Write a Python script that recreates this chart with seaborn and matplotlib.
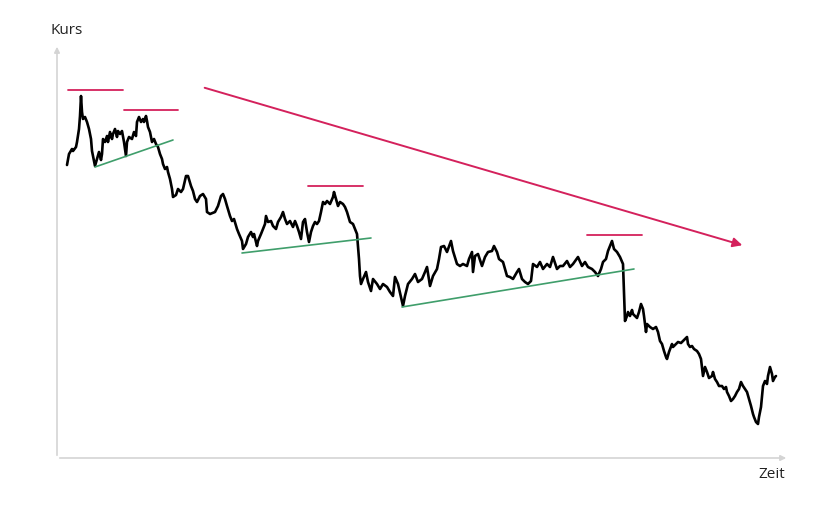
import numpy as np
import pandas as pd
import seaborn as sns
import matplotlib.pyplot as plt

# price path (time, price in chart units)
zeit = [10, 12, 15, 16, 19, 20, 22, 23, 24, 25, 26, 28, 30, 32, 34, 35, 37, 38, 40, 42,
        44, 45, 46, 48, 50, 51, 53, 55, 56, 58, 60, 61, 63, 65, 67, 69, 70, 72, 75, 77,
        79, 80, 82, 84, 86, 87, 89, 90, 91, 93, 95, 97, 99, 101, 103, 105, 106, 108, 110, 111,
        113, 115, 116, 119, 121, 124, 126, 129, 131, 134, 136, 138, 140,
        143, 146, 149, 150, 153, 158, 161, 164, 166, 168, 170, 173, 175, 177, 180, 182, 185, 186, 189, 191,
        194, 196, 197, 200, 201, 204, 206, 208, 209, 211, 214, 216, 219, 221, 224, 226, 228, 230, 233, 236,
        238, 240, 242, 244, 246, 248, 250, 252, 254, 256, 258, 260, 262, 264, 266, 268, 270, 273, 276, 277,
        279, 281, 283, 286, 288, 290, 293, 296, 298, 300, 301, 302,
        303, 304, 306, 309, 311, 314, 316, 320, 323, 326, 330, 333, 336, 338, 341, 344, 346, 348, 351, 355,
        358, 361, 365, 368, 370, 373, 376, 380, 382, 384, 387, 390, 394, 396, 400, 403, 406, 410, 412, 415,
        416, 418, 421, 425, 428, 431, 435, 437, 440, 442, 446, 448, 450, 453, 456, 460, 462, 465, 468, 471,
        474, 476, 480, 483, 486, 490, 493, 496, 500, 503, 506, 510, 513, 516, 521, 525, 528, 531, 535, 538,
        541, 544, 546, 549, 551, 555, 557, 560, 563, 566, 567,
        568, 570, 571, 573, 575, 576, 578, 580, 582, 584, 586, 587, 589, 590, 593, 596, 599, 601, 603, 605,
        607, 609, 610, 612, 615, 616, 619, 621, 624, 626, 628, 630, 631, 633, 635, 637, 640, 642, 644, 646,
        648, 650, 652, 655, 656, 658, 660, 662, 665, 667, 669, 670, 672, 674, 676, 678, 680, 682, 684, 686,
        688, 690, 692, 694, 696, 697, 699, 701, 702, 704, 705, 706, 708, 710, 711, 713, 715, 716, 718, 719]
kurs = [293, 304, 309, 307, 311, 316, 329, 342, 362, 346, 339, 341, 336, 329, 319, 307, 297, 292, 299, 306,
        298, 304, 319, 316, 322, 316, 326, 319, 324, 329, 321, 327, 324, 327, 316, 302, 316, 321, 319, 326,
        322, 336, 341, 336, 339, 336, 342, 337, 331, 326, 316, 319, 314, 311, 304, 299, 294, 289, 291, 286,
        279, 269, 261, 263, 269, 266, 269, 282, 282, 272, 267, 259, 256,
        262, 264, 259, 246, 244, 246, 252, 262, 264, 259, 252, 242, 237, 239, 229, 224, 217, 209, 214, 221,
        226, 221, 224, 212, 217, 224, 229, 234, 242, 236, 237, 232, 229, 236, 241, 246, 239, 234, 237, 231,
        237, 232, 226, 219, 236, 239, 226, 216, 226, 232, 236, 234, 237, 246, 256, 254, 257, 254, 261, 266,
        259, 252, 256, 254, 251, 246, 236, 234, 229, 224, 212, 199,
        182, 174, 179, 186, 176, 167, 179, 174, 169, 174, 171, 166, 162, 181, 174, 161, 152, 162, 174, 179,
        184, 176, 179, 186, 191, 172, 182, 189, 199, 211, 212, 206, 217, 207, 194, 192, 194, 192, 199, 206,
        186, 202, 204, 192, 201, 206, 207, 212, 206, 199, 196, 189, 182, 181, 179, 186, 189, 179, 176, 174,
        177, 194, 191, 196, 189, 194, 191, 201, 189, 192, 192, 197, 191, 194, 201, 192, 196, 191, 189, 186,
        182, 189, 196, 199, 207, 217, 209, 206, 201, 194, 165,
        137, 142, 146, 142, 148, 144, 142, 140, 146, 154, 149, 142, 126, 134, 131, 129, 131, 126, 117, 114,
        107, 101, 99, 106, 114, 111, 114, 116, 115, 117, 119, 121, 114, 111, 112, 109, 107, 104, 99, 82,
        91, 86, 80, 82, 86, 79, 76, 72, 72, 69, 71, 66, 62, 57, 59, 62, 66, 69, 76, 72,
        69, 66, 59, 52, 44, 41, 36, 34, 41, 51, 61, 72, 77, 74, 82, 91, 84, 77, 81, 82]

# resistance levels (red) and rising support lines (green)
res_x0 = [11, 67, 251, 530]
res_x1 = [66, 121, 306, 585]
res_y = [368, 348, 272, 223]
sup_x0 = [38, 185, 345]
sup_y0 = [291, 205, 151]
sup_x1 = [116, 314, 577]
sup_y1 = [318, 220, 189]
trend_start = (145, 371)
trend_end = (688, 212)

red = '#d4215c'
green = '#3f9e6b'
grey = '#d4d4d4'

df = pd.DataFrame({'Zeit': zeit, 'Kurs': kurs})

sns.set_style('white')
plt.rcParams['font.family'] = ['Open Sans', 'DejaVu Sans']

fig = plt.figure(figsize=(8.4, 5.06), dpi=100)
ax = fig.add_axes([57 / 840, 47 / 506, 732 / 840, 414 / 506])

sns.lineplot(data=df, x='Zeit', y='Kurs', ax=ax, color='black', linewidth=1.9, sort=False)

for x0, x1, y in zip(res_x0, res_x1, res_y):
    ax.plot([x0, x1], [y, y], color=red, linewidth=1.3)
for x0, y0, x1, y1 in zip(sup_x0, sup_y0, sup_x1, sup_y1):
    ax.plot([x0, x1], [y0, y1], color=green, linewidth=1.2)

ax.annotate('', xy=trend_end, xytext=trend_start,
            arrowprops=dict(arrowstyle='-|>', color=red, lw=1.4, mutation_scale=14))

ax.set_xlim(0, 732)
ax.set_ylim(0, 414)
ax.set_xticks([])
ax.set_yticks([])
ax.set_xlabel('')
ax.set_ylabel('')
for s in ax.spines.values():
    s.set_visible(False)

# light grey axis arrows
ax.annotate('', xy=(0, 1), xytext=(0, 0), xycoords='axes fraction',
            arrowprops=dict(arrowstyle='-|>', color=grey, lw=1.2, mutation_scale=8))
ax.annotate('', xy=(1, 0), xytext=(0, 0), xycoords='axes fraction',
            arrowprops=dict(arrowstyle='-|>', color=grey, lw=1.2, mutation_scale=8))

fig.text(51 / 840, 1 - 31 / 506, 'Kurs', fontsize=11, va='center', ha='left', color='#222222')
fig.text(758 / 840, 1 - 475 / 506, 'Zeit', fontsize=11, va='center', ha='left', color='#222222')

fig.savefig('out.png', dpi=100, facecolor='white')
